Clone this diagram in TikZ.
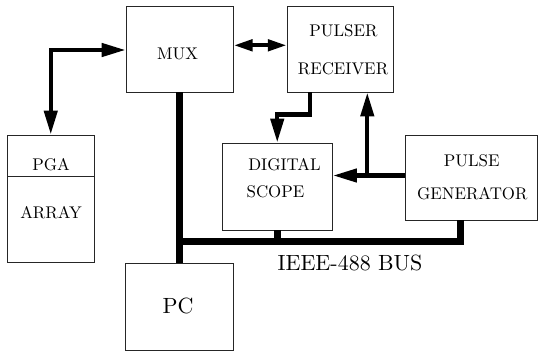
\documentclass[tikz,border=0pt]{standalone}
\usepackage{graphicx}
\usetikzlibrary{arrows.meta}
\newcommand\boxtxt[1]{\scalebox{1.69}{\fontsize{10}{12}\selectfont #1}}
\newcommand\bigtxt[1]{\scalebox{2.2}{\fontsize{10}{12}\selectfont #1}}
\begin{document}
\begin{tikzpicture}[x=1pt,y=-1pt,
  box/.style={draw=black!85,line width=0.8pt,fill=white,inner sep=0pt},
  lbl/.style={inner sep=0pt},
  conn/.style={line width=4.3pt,line join=miter},
  big/.tip={Triangle[length=24pt,width=13pt]},
  small/.tip={Triangle[length=19pt,width=11pt]},
  bus/.style={line width=7pt,line join=miter}]
\useasboundingbox (0,0) rectangle (538,354);
% boxes
\node[box,minimum width=107pt,minimum height=86pt] (mux) at (179.6,49) {};
\node[box,minimum width=106.4pt,minimum height=86pt] (pr) at (340.5,49) {};
\node[box,minimum width=86.5pt,minimum height=127pt] (pga) at (50.75,198.5) {};
\node[box,minimum width=110.5pt,minimum height=87pt] (scope) at (277.25,186.5) {};
\node[box,minimum width=132pt,minimum height=85pt] (pg) at (471,177.5) {};
\node[box,minimum width=107.7pt,minimum height=86.5pt] (pc) at (179.6,306.75) {};
\coordinate (div) at (0,176);
\draw[black!85,line width=0.8pt] (pga.west |- div) -- (pga.east |- div);
% texts
\node[lbl] (muxt) at (177.5,54) {\boxtxt{MUX}};
\node[lbl] (prt1) at (343.5,31) {\boxtxt{PULSER}};
\node[lbl] (prt2) at (343,69) {\boxtxt{RECEIVER}};
\node[lbl] (pgat) at (51,165) {\boxtxt{PGA}};
\node[lbl] (arrt) at (51,213) {\boxtxt{ARRAY}};
\node[lbl] (sct1) at (284.5,165) {\boxtxt{DIGITAL}};
\node[lbl] (sct2) at (275.5,192) {\boxtxt{SCOPE}};
\node[lbl] (pgt1) at (471.7,161) {\boxtxt{PULSE}};
\node[lbl] (pgt2) at (472.3,194) {\boxtxt{GENERATOR}};
\node[lbl] (pct) at (178,306) {\bigtxt{PC}};
\node[lbl] (bust) at (350,262.5) {\bigtxt{IEEE-488 BUS}};
% bus
\coordinate (busy) at (0,241);
\draw[bus] (mux.south) -- (pc.north);
\draw[bus] (mux.south |- busy) -| ([xshift=-11pt]pg.south);
\draw[bus] (scope.south) -- (scope.south |- busy);
% connectors
\draw[conn,big-big] ([yshift=-1pt]mux.west) -| (pga.north);
\draw[conn,small-small] ([yshift=3.7pt]mux.east) -- ([yshift=3.7pt]pr.west);
\draw[conn,-big] ([xshift=-30.5pt]pr.south) -- ++(0,22) -| (scope.north);
\draw[conn,-big] ([yshift=2pt]pg.west) -- ([yshift=2pt]pg.west -| scope.east);
\coordinate (j) at (367.3,175.5);
\draw[conn,-big] (j) -- (j |- pr.south);
\end{tikzpicture}
\end{document}
